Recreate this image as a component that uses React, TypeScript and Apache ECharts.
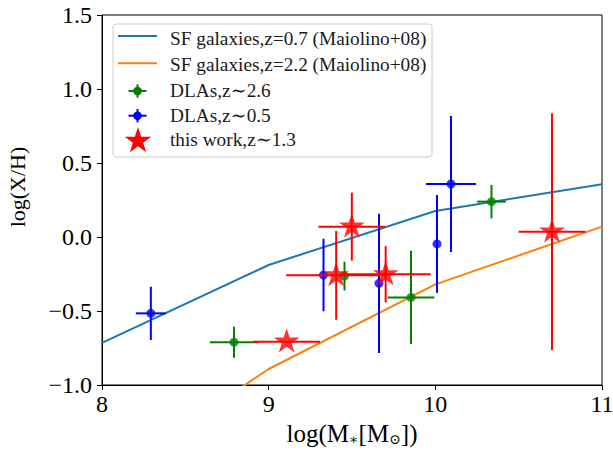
import React, { useEffect, useRef } from "react";
import * as echarts from "echarts";

// Maiolino+08 mass-metallicity curves
const curveMass = [8, 9, 10, 11];
const curveZ07 = [-0.716, -0.189, 0.176, 0.356];
const curveZ22 = [-1.65, -0.892, -0.32, 0.07];

// DLAs z~2.6 (green)
const greenX = [8.792, 9.455, 9.854, 10.337];
const greenY = [-0.711, -0.264, -0.408, 0.239];
const greenXErr = [0.145, 0.0, 0.14, 0.086];
const greenYErr = [0.105, 0.097, 0.315, 0.113];

// DLAs z~0.5 (blue)
const blueX = [8.293, 9.329, 9.662, 10.01, 10.094];
const blueY = [-0.516, -0.257, -0.313, -0.047, 0.358];
const blueXErr = [0.09, 0.0, 0.0, 0.0, 0.15];
const blueYErr = [0.18, 0.245, 0.47, 0.33, 0.46];

// this work z~1.3 (red)
const redX = [9.108, 9.499, 9.405, 9.702, 10.7];
const redY = [-0.707, 0.07, -0.259, -0.252, 0.036];
const redXErr = [0.2, 0.2, 0.3, 0.27, 0.2];
const redYErr = [0.0, 0.23, 0.3, 0.19, 0.8];

const xTicks = [8, 9, 10, 11];
const yTicks = [-1.0, -0.5, 0.0, 0.5, 1.0, 1.5];

const legendLabels = [
  "SF galaxies,z=0.7 (Maiolino+08)",
  "SF galaxies,z=2.2 (Maiolino+08)",
  "DLAs,z\u223C2.6",
  "DLAs,z\u223C0.5",
  "this work,z\u223C1.3",
];

const SERIF = "'Liberation Serif', 'DejaVu Serif', serif";

function starPath(): string {
  const R = 1, r = 0.381966;
  const pts: string[] = [];
  for (let i = 0; i < 10; i++) {
    const ang = -Math.PI / 2 + (i * Math.PI) / 5;
    const rad = i % 2 === 0 ? R : r;
    const x = rad * Math.cos(ang);
    const y = rad * Math.sin(ang);
    pts.push(`${i === 0 ? "M" : "L"}${x.toFixed(4)} ${y.toFixed(4)}`);
  }
  return "path://" + pts.join(" ") + " Z";
}

function starPoints(cx: number, cy: number, R: number): number[][] {
  const r = R * 0.381966;
  const pts: number[][] = [];
  for (let i = 0; i < 10; i++) {
    const ang = -Math.PI / 2 + (i * Math.PI) / 5;
    const rad = i % 2 === 0 ? R : r;
    pts.push([cx + rad * Math.cos(ang), cy + rad * Math.sin(ang)]);
  }
  return pts;
}

function errData(xs: number[], ys: number[], xe: number[], ye: number[]) {
  return xs.map((x, i) => [x, ys[i], xe[i], ye[i]]);
}

function errRender(color: string) {
  return (params: any, api: any) => {
    const x = api.value(0), y = api.value(1), xe = api.value(2), ye = api.value(3);
    const children: any[] = [];
    if (xe > 0) {
      const a = api.coord([x - xe, y]);
      const b = api.coord([x + xe, y]);
      children.push({ type: "line", shape: { x1: a[0], y1: a[1], x2: b[0], y2: b[1] }, style: { stroke: color, lineWidth: 2 } });
    }
    if (ye > 0) {
      const a = api.coord([x, y - ye]);
      const b = api.coord([x, y + ye]);
      children.push({ type: "line", shape: { x1: a[0], y1: a[1], x2: b[0], y2: b[1] }, style: { stroke: color, lineWidth: 2 } });
    }
    return { type: "group", children };
  };
}

export default function App() {
  const ref = useRef<HTMLDivElement>(null);
  useEffect(() => {
    document.body.style.margin = "0";
    const chart = echarts.init(ref.current!, null, { renderer: "svg" });
    const STAR = starPath();
    const SR = 13.5;

    const legendX = 113, legendY = 24, legendW = 319, legendH = 133;
    const handleY = [36, 63.3, 91, 115.7, 141];
    const textY = [38, 64.5, 90.5, 115.5, 139.5];
    const hx1 = 118, hx2 = 157, hc = 137.5, tx = 170;
    const legendGraphics: any[] = [
      {
        type: "rect",
        shape: { x: legendX, y: legendY, width: legendW, height: legendH, r: 3 },
        style: { fill: "rgba(255,255,255,0.8)", stroke: "#cccccc", lineWidth: 1 },
        z: 100,
      },
      { type: "line", shape: { x1: hx1, y1: handleY[0], x2: hx2, y2: handleY[0] }, style: { stroke: "#1f77b4", lineWidth: 2 }, z: 101 },
      { type: "line", shape: { x1: hx1, y1: handleY[1], x2: hx2, y2: handleY[1] }, style: { stroke: "#ff7f0e", lineWidth: 2 }, z: 101 },
    ];
    const mk = (color: string, y: number) => [
      { type: "line", shape: { x1: hc - 9, y1: y, x2: hc + 9, y2: y }, style: { stroke: color, lineWidth: 2 }, z: 101 },
      { type: "line", shape: { x1: hc, y1: y - 6.7, x2: hc, y2: y + 6.7 }, style: { stroke: color, lineWidth: 2 }, z: 101 },
      { type: "circle", shape: { cx: hc, cy: y, r: 4.3 }, style: { fill: color }, z: 102 },
    ];
    legendGraphics.push(...mk("#008000", handleY[2]), ...mk("#0000ff", handleY[3]));
    legendGraphics.push({
      type: "polygon",
      shape: { points: starPoints(hc + 0.5, handleY[4], 14) },
      style: { fill: "#ff0000" },
      z: 102,
    });
    legendLabels.forEach((t, i) => {
      legendGraphics.push({
        type: "text",
        x: tx,
        y: textY[i],
        style: { text: t, fontFamily: SERIF, fontSize: 19.3, fill: "#1a1a1a", verticalAlign: "middle", align: "left" },
        z: 103,
      });
    });

    chart.setOption({
      animation: false,
      backgroundColor: "#ffffff",
      grid: {
        left: 102,
        top: 15,
        width: 500,
        height: 370,
        containLabel: false,
        outerBoundsMode: "none",
        show: true,
        borderColor: "#000",
        borderWidth: 1,
        backgroundColor: "transparent",
      },
      xAxis: {
        type: "value",
        min: 8,
        max: 11,
        interval: 1,
        name: "{a|log(M}{s|\u2217}{a|[M}{s|\u2299}{a|])}",
        nameLocation: "middle",
        nameGap: 35,
        nameTextStyle: {
          fontFamily: SERIF,
          color: "#000",
          rich: {
            a: { fontFamily: SERIF, fontSize: 25, color: "#000", lineHeight: 26, verticalAlign: "top" },
            s: { fontFamily: SERIF, fontSize: 14, color: "#000", lineHeight: 12, verticalAlign: "bottom" },
          },
        },
        axisLine: { show: true, onZero: false, lineStyle: { color: "#000", width: 1 } },
        axisTick: { show: true, length: 5, lineStyle: { color: "#000" } },
        splitLine: { show: false },
        axisLabel: { fontFamily: SERIF, fontSize: 24, color: "#000", margin: 7, formatter: (v: number) => (xTicks.includes(v) ? String(v) : "") },
      },
      yAxis: {
        type: "value",
        min: -1,
        max: 1.5,
        interval: 0.5,
        name: "log(X/H)",
        nameLocation: "middle",
        nameGap: 74,
        nameRotate: 90,
        nameTextStyle: { fontFamily: SERIF, fontSize: 22, color: "#000", padding: [0, 0, 0, 26] },
        axisLine: { show: true, onZero: false, lineStyle: { color: "#000", width: 1 } },
        axisTick: { show: true, length: 5, lineStyle: { color: "#000" } },
        splitLine: { show: false },
        axisLabel: {
          fontFamily: SERIF,
          fontSize: 24,
          color: "#000",
          margin: 10,
          formatter: (v: number) => {
            const m = yTicks.find((t) => Math.abs(t - v) < 1e-9);
            if (m === undefined) return "";
            return m < 0 ? "\u2212" + Math.abs(m).toFixed(1) : m.toFixed(1);
          },
        },
      },
      graphic: legendGraphics,
      series: [
        {
          type: "line",
          data: curveMass.map((x, i) => [x, curveZ07[i]]),
          symbol: "none",
          lineStyle: { color: "#1f77b4", width: 2 },
          z: 2,
          clip: true,
        },
        {
          type: "line",
          data: curveMass.map((x, i) => [x, curveZ22[i]]),
          symbol: "none",
          lineStyle: { color: "#ff7f0e", width: 2 },
          z: 2,
          clip: true,
        },
        { type: "custom", renderItem: errRender("#008000"), data: errData(greenX, greenY, greenXErr, greenYErr), z: 3, clip: true },
        { type: "scatter", data: greenX.map((x, i) => [x, greenY[i]]), symbol: "circle", symbolSize: 9, itemStyle: { color: "#008000" }, z: 4 },
        { type: "custom", renderItem: errRender("#0000ff"), data: errData(blueX, blueY, blueXErr, blueYErr), z: 5, clip: true },
        { type: "scatter", data: blueX.map((x, i) => [x, blueY[i]]), symbol: "circle", symbolSize: 9, itemStyle: { color: "#0000ff" }, z: 6 },
        { type: "custom", renderItem: errRender("#ff0000"), data: errData(redX, redY, redXErr, redYErr), z: 7, clip: true },
        {
          type: "scatter",
          data: redX.map((x, i) => [x, redY[i]]),
          symbol: STAR,
          symbolSize: [SR * 1.902, SR * 1.809],
          symbolOffset: [0, -SR * 0.095],
          itemStyle: { color: "#ff0000" },
          z: 8,
        },
      ],
    });
    return () => chart.dispose();
  }, []);
  return <div ref={ref} style={{ width: 613, height: 451 }} />;
}
